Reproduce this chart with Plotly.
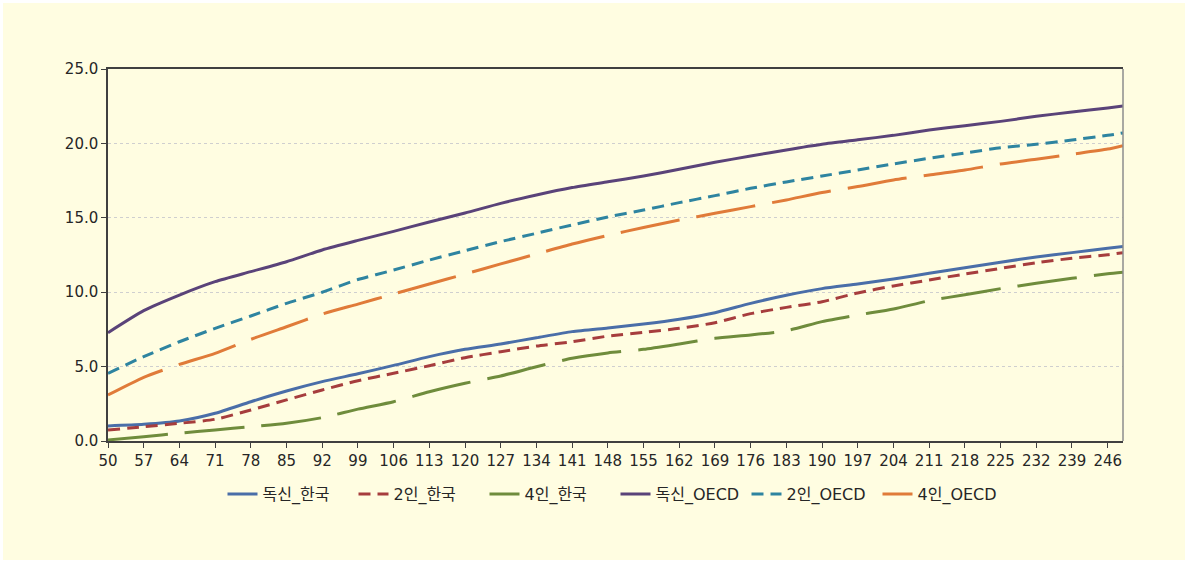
import plotly.graph_objects as go

x_vals = [50, 57, 64, 71, 78, 85, 92, 99, 106, 113, 120, 127, 134, 141, 148,
          155, 162, 169, 176, 183, 190, 197, 204, 211, 218, 225, 232, 239, 246, 249]

single_kr = [1.01, 1.12, 1.34, 1.86, 2.64, 3.36, 3.99, 4.52, 5.08, 5.67, 6.16, 6.52, 6.94, 7.35, 7.60,
             7.86, 8.18, 8.62, 9.25, 9.79, 10.24, 10.55, 10.89, 11.27, 11.65, 12.01, 12.37, 12.66, 12.95, 13.08]
two_kr = [0.74, 0.96, 1.19, 1.46, 2.08, 2.76, 3.43, 4.05, 4.55, 5.06, 5.60, 6.00, 6.38, 6.67, 7.05,
          7.30, 7.57, 7.95, 8.56, 8.98, 9.36, 9.95, 10.42, 10.82, 11.22, 11.60, 11.98, 12.28, 12.52, 12.66]
four_kr = [0.07, 0.29, 0.52, 0.74, 0.96, 1.19, 1.57, 2.14, 2.64, 3.31, 3.88, 4.37, 4.99, 5.56, 5.92,
           6.16, 6.52, 6.90, 7.12, 7.41, 8.02, 8.47, 8.87, 9.43, 9.83, 10.24, 10.60, 10.93, 11.24, 11.34]
single_oecd = [7.28, 8.76, 9.81, 10.71, 11.38, 12.05, 12.84, 13.48, 14.09, 14.72, 15.32, 15.97, 16.53, 17.03, 17.42,
               17.81, 18.26, 18.73, 19.15, 19.56, 19.94, 20.24, 20.54, 20.90, 21.19, 21.48, 21.82, 22.11, 22.38, 22.51]
two_oecd = [4.55, 5.67, 6.67, 7.57, 8.40, 9.25, 10.00, 10.85, 11.49, 12.16, 12.79, 13.40, 13.96, 14.52, 15.06,
            15.52, 16.02, 16.49, 16.98, 17.41, 17.81, 18.21, 18.62, 19.00, 19.35, 19.71, 19.94, 20.23, 20.54, 20.70]
four_oecd = [3.09, 4.28, 5.15, 5.89, 6.83, 7.68, 8.53, 9.20, 9.88, 10.55, 11.22, 11.90, 12.57, 13.24, 13.82,
             14.35, 14.85, 15.30, 15.75, 16.20, 16.70, 17.10, 17.54, 17.88, 18.21, 18.62, 18.93, 19.27, 19.62, 19.85]

series_names = ["독신_한국", "2인_한국", "4인_한국", "독신_OECD", "2인_OECD", "4인_OECD"]
series_values = [single_kr, two_kr, four_kr, single_oecd, two_oecd, four_oecd]
colors = ["#4A6EA8", "#A63D3D", "#6F8C3C", "#5A4379", "#2E84A0", "#E07B39"]
dashes = ["solid", "12px,7px", "60px,17px", "solid", "12px,7px", "60px,17px"]

fig = go.Figure()
for name, vals, c, d in zip(series_names, series_values, colors, dashes):
    fig.add_trace(go.Scatter(
        x=x_vals, y=vals, mode="lines", name=name,
        line=dict(color=c, width=3, dash=d, shape="spline", smoothing=0.6),
    ))

L, R, T, B = 108, 65, 69, 122
W, H = 1188, 563
pw = W - L - R
ph = H - T - B

fig.update_layout(
    width=W, height=H,
    margin=dict(l=L, r=R, t=T, b=B),
    paper_bgcolor="white",
    plot_bgcolor="#FFFDE1",
    font=dict(family="DejaVu Sans, Noto Sans CJK KR", size=15, color="#262626"),
    showlegend=True,
    legend=dict(
        orientation="h", x=0.5, xanchor="center",
        y=(441 - 494) / ph, yanchor="middle",
        font=dict(family="DejaVu Sans, Noto Sans CJK KR", size=16, color="#262626"),
        bgcolor="rgba(0,0,0,0)", itemwidth=30, entrywidth=86,
    ),
    shapes=[
        dict(type="rect", xref="paper", yref="paper",
             x0=(3 - L) / pw, x1=(W - 3 - L) / pw,
             y0=(T + ph - (H - 3)) / ph, y1=(T + ph - 3) / ph,
             fillcolor="#FFFDE1", line=dict(width=0), layer="below"),
        dict(type="line", xref="paper", yref="paper", x0=1, x1=1, y0=0, y1=1,
             line=dict(color="#8C8C8C", width=1.5), layer="above"),
    ],
    xaxis=dict(
        range=[50, 249], tickmode="linear", tick0=50, dtick=7,
        showgrid=False, zeroline=False,
        showline=True, linecolor="#404040", linewidth=1.5, mirror=True,
        ticks="outside", ticklen=5, tickcolor="#404040",
        tickfont=dict(family="DejaVu Sans", size=15, color="#262626"),
    ),
    yaxis=dict(
        range=[0, 25], tickmode="linear", tick0=0, dtick=5, tickformat=".1f",
        showgrid=True, gridcolor="#CFCFCF", griddash="dot", gridwidth=1,
        zeroline=False,
        showline=True, linecolor="#404040", linewidth=1.5,
        ticks="outside", ticklen=5, tickcolor="#404040",
        tickfont=dict(family="DejaVu Sans", size=15, color="#262626"),
    ),
)

fig.write_html(
    "out.html",
    config={"displayModeBar": False},
    post_script="document.body.style.margin='0';document.body.style.overflow='hidden';",
)
